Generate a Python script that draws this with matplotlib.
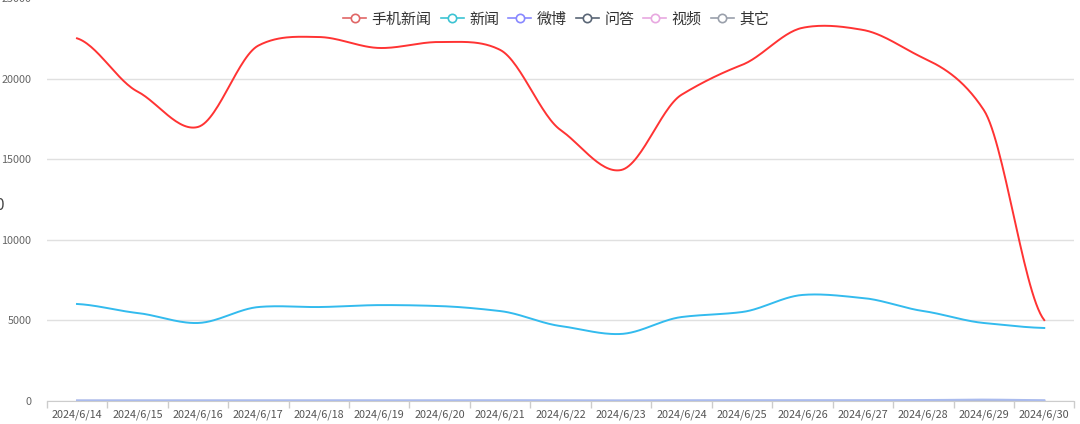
import numpy as np
from matplotlib import pyplot as plt
from matplotlib.lines import Line2D

plt.rcParams['font.family'] = ['Noto Sans CJK SC', 'DejaVu Sans']

dates = ['2024/6/14', '2024/6/15', '2024/6/16', '2024/6/17', '2024/6/18', '2024/6/19',
         '2024/6/20', '2024/6/21', '2024/6/22', '2024/6/23', '2024/6/24', '2024/6/25',
         '2024/6/26', '2024/6/27', '2024/6/28', '2024/6/29', '2024/6/30']

mobile_news = [22500, 19200, 17000, 22050, 22580, 21900, 22270, 21780, 16810, 14330,
               19000, 20850, 23150, 23020, 21280, 18050, 5020]
news = [6020, 5460, 4840, 5830, 5830, 5950, 5890, 5580, 4650, 4160,
        5210, 5520, 6580, 6390, 5580, 4840, 4530]
weibo = [40, 45, 40, 50, 45, 40, 45, 50, 40, 35, 45, 50, 55, 50, 60, 90, 50]
qa = [2, 3, 2, 3, 2, 2, 3, 2, 2, 1, 2, 3, 3, 2, 3, 4, 2]
video = [10, 12, 9, 11, 10, 12, 11, 10, 9, 8, 10, 11, 12, 11, 12, 15, 9]
other = [20, 22, 18, 21, 20, 22, 21, 20, 18, 16, 20, 21, 23, 22, 24, 30, 18]

names = ['手机新闻', '新闻', '微博', '问答', '视频', '其它']
series = [mobile_news, news, weibo, qa, video, other]
line_colors = ['#ff3333', '#33bbee', '#aabbee', '#b0b8d0', '#d8c8e8', '#c0c8d8']
legend_colors = ['#e06666', '#3cc3d3', '#8888ff', '#5a6676', '#e8a8e0', '#9aa0ab']


def smooth(x, y, n=30, k=0.7):
    # hermite smoothing between points, only for drawing the line
    x = np.asarray(x, float)
    y = np.asarray(y, float)
    xs, ys = [], []
    for i in range(len(x) - 1):
        p0 = y[i - 1] if i > 0 else y[i]
        p3 = y[i + 2] if i + 2 < len(y) else y[i + 1]
        p1, p2 = y[i], y[i + 1]
        t = np.linspace(0, 1, n, endpoint=False)
        m1 = (p2 - p0) / 2 * k
        m2 = (p3 - p1) / 2 * k
        h00 = 2 * t**3 - 3 * t**2 + 1
        h10 = t**3 - 2 * t**2 + t
        h01 = -2 * t**3 + 3 * t**2
        h11 = t**3 - t**2
        xs.append(x[i] + t * (x[i + 1] - x[i]))
        ys.append(h00 * p1 + h10 * m1 + h01 * p2 + h11 * m2)
    xs.append([x[-1]])
    ys.append([y[-1]])
    return np.concatenate(xs), np.concatenate(ys)


fig = plt.figure(figsize=(10.8, 4.24), dpi=100)
ax = fig.add_axes([0.0433, 0.0542, 0.9516, 0.9505])

xpos = np.arange(len(dates))
for vals, col in reversed(list(zip(series, line_colors))):
    sx, sy = smooth(xpos, vals)
    ax.plot(sx, sy, color=col, lw=1.4, zorder=3)

ax.set_xlim(-0.5, len(dates) - 0.5)
ax.set_ylim(0, 25000)
ax.set_yticks(range(0, 25001, 5000))
ax.yaxis.grid(True, color='#e0e0e0', lw=1)
ax.set_axisbelow(True)

ax.set_xticks(np.arange(-0.5, len(dates), 1))
ax.set_xticklabels([])
ax.set_xticks(xpos, minor=True)
ax.set_xticklabels(dates, minor=True)
ax.tick_params(axis='x', which='major', length=5, color='#cccccc', width=1)
ax.tick_params(axis='x', which='minor', length=0, pad=6, labelsize=7.8, labelcolor='#555555')
ax.tick_params(axis='y', length=0, pad=11, labelsize=7.8, labelcolor='#666666')

for s in ['top', 'right', 'left']:
    ax.spines[s].set_visible(False)
ax.spines['bottom'].set_color('#cccccc')

fig.text(-0.004, 0.515, '0', fontsize=11, color='#444444', va='center', ha='left')

handles = [Line2D([0], [0], color=c, lw=1.2, marker='o', markersize=6,
                  markerfacecolor='white', markeredgecolor=c, markeredgewidth=1.2)
           for c in legend_colors]
fig.legend(handles, names, loc='center', bbox_to_anchor=(0.515, 0.954), ncol=6,
           frameon=False, fontsize=10.8, handlelength=1.55, handletextpad=0.35,
           columnspacing=0.6, labelcolor='#333333', borderpad=0)

fig.savefig('out.png', dpi=100)
